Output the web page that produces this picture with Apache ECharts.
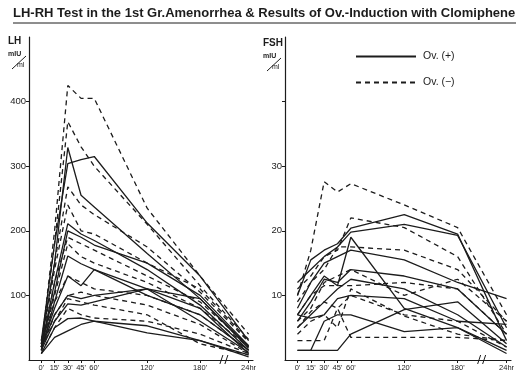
<!DOCTYPE html>
<html><head><meta charset="utf-8">
<script src="https://cdn.jsdelivr.net/npm/echarts@6/dist/echarts.min.js"></script>
<style>html,body{margin:0;padding:0;background:#fff}#c{width:530px;height:376px}</style>
</head><body><div id="c"></div>
<script>
// time points (minutes); 24hr drawn after an axis break
const times = [0, 15, 30, 45, 60, 120, 180, 235];
const xTickValues = [0, 15, 30, 45, 60, 120, 180, 235];
const xTickLabels = ["0'", "15'", "30'", "45'", "60'", "120'", "180'", "24hr"];
const lhTickValues = [100, 200, 300, 400];
const fshTickValues = [10, 20, 30, 40];
const fshLabelValues = [10, 20, 30];

// LH (mIU/ml) – ovulation induced (+), solid
const lhPos = [
  [25, 150, 329, 255, 237, 165, 95, 20],
  [30, 180, 304, 310, 315, 212, 130, 30],
  [20, 120, 211, 195, 185, 140, 85, 15],
  [25, 105, 200, 190, 178, 150, 100, 22],
  [15, 90, 161, 149, 140, 100, 70, 15],
  [20, 80, 130, 115, 140, 110, 95, 18],
  [15, 60, 87, 85, 90, 110, 80, 10],
  [10, 50, 64, 65, 60, 53, 30, 8],
  [10, 35, 45, 55, 60, 42, 30, 5],
  [20, 70, 100, 95, 100, 110, 60, 12]
];
// LH – not induced (−), dashed
const lhNeg = [
  [20, 200, 425, 405, 405, 235, 130, 40],
  [25, 180, 369, 330, 300, 210, 115, 32],
  [30, 150, 268, 240, 225, 175, 105, 28],
  [20, 140, 240, 200, 195, 150, 110, 30],
  [15, 120, 190, 180, 170, 130, 90, 22],
  [20, 100, 180, 160, 150, 120, 80, 20],
  [25, 90, 130, 120, 110, 100, 70, 15],
  [15, 70, 100, 105, 100, 85, 55, 10],
  [10, 50, 80, 70, 65, 60, 40, 10],
  [20, 60, 95, 90, 85, 70, 25, 8]
];
// FSH (mIU/ml) – solid
const fshPos = [
  [10, 15.5, 17, 18, 20.4, 22.5, 19.5, 3],
  [12, 14, 16, 17.5, 19.8, 21, 19.3, 5],
  [7, 10, 13, 11.5, 19, 8, 5, 1.5],
  [8, 12, 15, 16, 17, 15.5, 12, 9.5],
  [6, 9, 12.5, 12, 14, 13, 11, 4],
  [5, 7, 9, 11, 12.5, 11, 7, 2],
  [7, 6.5, 7, 9.5, 10, 9.5, 6, 5.5],
  [1.5, 1.5, 6, 7, 7, 4.4, 5, 1],
  [1.5, 1.5, 1.5, 1.5, 4, 7.8, 9, 2.5]
];
// FSH – dashed
const fshNeg = [
  [10, 17, 27.6, 26, 27.3, 24, 20.5, 7],
  [3, 3, 3, 8, 3.5, 3.5, 3.5, 3],
  [11, 13, 16, 17, 22, 20.5, 16, 4],
  [9, 12, 14, 17.5, 17.5, 17, 14, 6],
  [7, 10, 11.5, 11.5, 11.5, 12, 11, 4],
  [5, 7.5, 9, 8, 10, 7, 6, 2],
  [6, 8, 12, 13, 14, 10, 12.5, 6],
  [4, 6, 7, 5, 11, 6.8, 4, 3]
];

const POS = 'Ov. (+)', NEG = 'Ov. (\u2212)';
const ink = '#1c1c1c';
function mk(name, vals, idx, dashed) {
  return {
    type: 'line', name: name, xAxisIndex: idx, yAxisIndex: idx,
    data: times.map((t, i) => [t, vals[i]]),
    symbol: 'none', silent: true, animation: false,
    itemStyle: { color: 'rgba(0,0,0,0)', borderWidth: 0 },
    lineStyle: { color: ink, width: 1.3, type: dashed ? [5, 4] : 'solid' }
  };
}
const series = [];
lhPos.forEach(v => series.push(mk(POS, v, 0, false)));
lhNeg.forEach(v => series.push(mk(NEG, v, 0, true)));
fshPos.forEach(v => series.push(mk(POS, v, 1, false)));
fshNeg.forEach(v => series.push(mk(NEG, v, 1, true)));

const font = 'Liberation Sans, Arial, sans-serif';
function xAx(i) {
  return {
    type: 'value', gridIndex: i, min: -14, max: 240,
    splitLine: { show: false },
    axisLine: { show: true, lineStyle: { color: ink, width: 1.2 } },
    axisTick: { show: true, length: 3, customValues: xTickValues, lineStyle: { color: ink } },
    axisLabel: { customValues: xTickValues, fontSize: 7.5, color: ink, margin: 4, fontFamily: font,
      formatter: v => xTickLabels[xTickValues.indexOf(v)] }
  };
}
function yAx(i, max, tickVals, labVals) {
  return {
    type: 'value', gridIndex: i, min: 0, max: max,
    splitLine: { show: false },
    axisLine: { show: true, onZero: false, lineStyle: { color: ink, width: 1.2 } },
    axisTick: { show: true, length: 3, customValues: tickVals, lineStyle: { color: ink } },
    axisLabel: { customValues: labVals, fontSize: 9.5, color: ink, margin: 3, fontFamily: font }
  };
}

const chart = echarts.init(document.getElementById('c'), null, { renderer: 'canvas' });
chart.setOption({
  backgroundColor: '#fff',
  animation: false,
  grid: [
    { left: 29, top: 37, width: 224, height: 323 },
    { left: 285, top: 37, width: 226, height: 323 }
  ],
  xAxis: [xAx(0), xAx(1)],
  yAxis: [yAx(0, 500, lhTickValues, lhTickValues), yAx(1, 50, fshTickValues, fshLabelValues)],
  legend: {
    data: [POS, NEG], orient: 'vertical', left: 350, top: 46,
    itemWidth: 60, itemHeight: 10, itemGap: 15,
    itemStyle: { opacity: 0 },
    textStyle: { fontSize: 10.5, color: ink, fontFamily: font, padding: [0, 0, 0, 2] },
    selectedMode: false
  },
  series: series
});

// decorations: title, underline, unit labels, axis breaks
const g = [];
g.push({ type: 'text', left: 13, top: 7, style: { text: 'LH-RH Test in the 1st Gr.Amenorrhea & Results of Ov.-Induction with Clomiphene', fontSize: 13, fontWeight: 'bold', fill: ink, fontFamily: font } });
g.push({ type: 'line', shape: { x1: 13, y1: 23, x2: 516, y2: 23 }, style: { stroke: ink, lineWidth: 1 } });
function units(x, y, name) {
  g.push({ type: 'text', x: x, y: y, style: { text: name, fontSize: 10, fontWeight: 'bold', fill: ink, fontFamily: font } });
  g.push({ type: 'text', x: x, y: y + 15, style: { text: 'mIU', fontSize: 7, fontWeight: 'bold', fill: ink, fontFamily: font } });
  g.push({ type: 'line', shape: { x1: x + 4, y1: y + 33, x2: x + 18, y2: y + 20 }, style: { stroke: ink, lineWidth: 1 } });
  g.push({ type: 'text', x: x + 9, y: y + 26, style: { text: 'ml', fontSize: 7, fill: ink, fontFamily: font } });
}
units(8, 36, 'LH');
units(263, 38, 'FSH');
[0, 1].forEach(i => {
  const p = chart.convertToPixel({ xAxisIndex: i, yAxisIndex: i }, [207, 0]);
  g.push({ type: 'rect', shape: { x: p[0] - 2, y: p[1] - 2, width: 4, height: 4 }, style: { fill: '#fff' } });
  g.push({ type: 'line', shape: { x1: p[0] - 4, y1: p[1] + 4, x2: p[0] - 1, y2: p[1] - 5 }, style: { stroke: ink, lineWidth: 1 } });
  g.push({ type: 'line', shape: { x1: p[0] + 1, y1: p[1] + 4, x2: p[0] + 4, y2: p[1] - 5 }, style: { stroke: ink, lineWidth: 1 } });
});
chart.setOption({ graphic: g });
</script></body></html>
